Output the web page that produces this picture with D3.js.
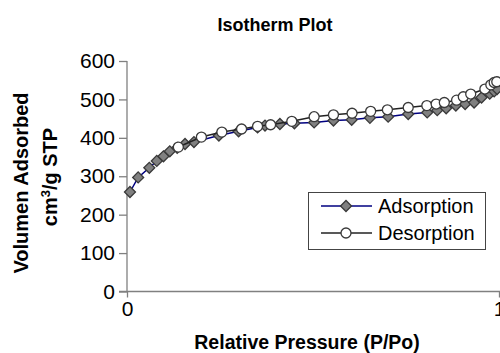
<!DOCTYPE html>
<html>
<head>
<meta charset="utf-8">
<script src="https://cdn.jsdelivr.net/npm/d3@7"></script>
<style>
  body { margin: 0; background: #fff; }
  svg { font-family: "Liberation Sans", Arial, Helvetica, sans-serif; }
</style>
</head>
<body>
<div id="chart"></div>
<script>
// values
var adsX = [0.008, 0.03, 0.06, 0.08, 0.098, 0.115, 0.135, 0.156, 0.18, 0.247, 0.30, 0.351, 0.371, 0.411, 0.45,
            0.503, 0.555, 0.604, 0.653, 0.702, 0.756, 0.807, 0.834, 0.858, 0.884, 0.909, 0.933, 0.953, 0.975, 0.987, 0.995];
var adsY = [259, 297, 322, 340, 352, 365, 374, 384, 389, 406, 417, 427, 432, 436, 438,
            440, 445, 447, 452, 455, 462, 466, 472, 477, 484, 488, 492, 505, 515, 521, 527];
var desX = [0.138, 0.2, 0.255, 0.308, 0.351, 0.386, 0.443, 0.503, 0.555, 0.605, 0.655, 0.70,
            0.756, 0.806, 0.831, 0.853, 0.886, 0.904, 0.924, 0.962, 0.978, 0.987, 0.994];
var desY = [376, 402, 415, 423, 430, 434, 443, 455, 460, 464, 469, 473,
            479, 484, 488, 492, 498, 507, 514, 527, 538, 544, 546];
var yTicks = [0, 100, 200, 300, 400, 500, 600];
var xTicks = [0, 1];
var seriesNames = ["Adsorption", "Desorption"];

var W = 500, H = 353;
var margin = { top: 61, right: 0, bottom: 61, left: 127 };

var svg = d3.select("#chart").append("svg")
    .attr("width", W)
    .attr("height", H);

var x = d3.scaleLinear().domain([0, 1]).range([margin.left, W - margin.right - 1]);
var y = d3.scaleLinear().domain([0, 600]).range([H - margin.bottom - 0.5, margin.top]);

// title
svg.append("text")
    .attr("x", 275).attr("y", 31)
    .attr("text-anchor", "middle")
    .style("font-size", "18px").style("font-weight", "bold")
    .text("Isotherm Plot");

// y axis
svg.append("g")
    .attr("transform", "translate(" + margin.left + ",0)")
    .call(d3.axisLeft(y).tickValues(yTicks).tickSize(8).tickPadding(4))
    .call(g => g.selectAll("line, path").attr("stroke", "#808080").attr("stroke-width", 1.3))
    .call(g => g.select(".domain").attr("d", "M0," + y(0) + "V" + y(600)))
    .call(g => g.selectAll(".tick text").style("font-size", "21px").attr("fill", "#000")
        .style("font-family", "'Liberation Sans', Arial, sans-serif"));

// x axis
svg.append("g")
    .attr("transform", "translate(0," + y(0) + ")")
    .call(d3.axisBottom(x).tickValues(xTicks).tickSize(6).tickPadding(4).tickFormat(d3.format("d")))
    .call(g => g.selectAll("line, path").attr("stroke", "#808080").attr("stroke-width", 1.3))
    .call(g => g.select(".domain").attr("d", "M" + (margin.left - 8) + ",0H" + W))
    .call(g => g.selectAll(".tick text").style("font-size", "21px").attr("fill", "#000")
        .style("font-family", "'Liberation Sans', Arial, sans-serif"));

// axis titles
svg.append("text")
    .attr("x", 307).attr("y", 349)
    .attr("text-anchor", "middle")
    .style("font-size", "19.5px").style("font-weight", "bold")
    .text("Relative Pressure (P/Po)");

svg.append("text")
    .attr("transform", "translate(28,183) rotate(-90)")
    .attr("text-anchor", "middle")
    .style("font-size", "20px").style("font-weight", "bold")
    .text("Volumen Adsorbed");

var yt2 = svg.append("text")
    .attr("transform", "translate(57,177) rotate(-90)")
    .attr("text-anchor", "middle")
    .style("font-size", "20px").style("font-weight", "bold");
yt2.append("tspan").text("cm");
yt2.append("tspan").attr("dy", -7).style("font-size", "13px").text("3");
yt2.append("tspan").attr("dy", 7).text("/g STP");

var line = d3.line()
    .x(function (d) { return x(d[0]); })
    .y(function (d) { return y(d[1]); });

var ads = adsX.map(function (v, i) { return [v, adsY[i]]; });
var des = desX.map(function (v, i) { return [v, desY[i]]; });

var diamond = d3.symbol().type(d3.symbolSquare).size(60);

// adsorption
svg.append("path")
    .datum(ads)
    .attr("d", line)
    .attr("fill", "none")
    .attr("stroke", "#000080")
    .attr("stroke-width", 1.5);

svg.selectAll("path.ads")
    .data(ads)
    .enter().append("path")
    .attr("class", "ads")
    .attr("d", diamond)
    .attr("transform", function (d) { return "translate(" + x(d[0]) + "," + y(d[1]) + ") rotate(45)"; })
    .attr("fill", "#808080")
    .attr("stroke", "#3a3a3a")
    .attr("stroke-width", 1.3);

// desorption
svg.append("path")
    .datum(des)
    .attr("d", line)
    .attr("fill", "none")
    .attr("stroke", "#222")
    .attr("stroke-width", 1.5);

svg.selectAll("circle.des")
    .data(des)
    .enter().append("circle")
    .attr("class", "des")
    .attr("cx", function (d) { return x(d[0]); })
    .attr("cy", function (d) { return y(d[1]); })
    .attr("r", 5)
    .attr("fill", "#fff")
    .attr("stroke", "#3a3a3a")
    .attr("stroke-width", 1.3);

// legend
var lg = svg.append("g");
lg.append("rect")
    .attr("x", 308.5).attr("y", 192.5)
    .attr("width", 177).attr("height", 57)
    .attr("fill", "#fff")
    .attr("stroke", "#444")
    .attr("stroke-width", 1);

var rows = lg.selectAll("g.row")
    .data(seriesNames)
    .enter().append("g")
    .attr("class", "row")
    .attr("transform", function (d, i) { return "translate(0," + (206 + i * 27) + ")"; });

rows.append("line")
    .attr("x1", 321).attr("x2", 372)
    .attr("stroke", function (d, i) { return i === 0 ? "#000080" : "#222"; })
    .attr("stroke-width", 1.5);

rows.each(function (d, i) {
    var r = d3.select(this);
    if (i === 0) {
        r.append("path").attr("d", diamond)
            .attr("transform", "translate(346,0) rotate(45)")
            .attr("fill", "#808080").attr("stroke", "#3a3a3a").attr("stroke-width", 1.3);
    } else {
        r.append("circle").attr("cx", 346).attr("r", 5)
            .attr("fill", "#fff").attr("stroke", "#3a3a3a").attr("stroke-width", 1.3);
    }
});

rows.append("text")
    .attr("x", 378).attr("y", 7)
    .style("font-size", "20px")
    .text(function (d) { return d; });
</script>
</body>
</html>
